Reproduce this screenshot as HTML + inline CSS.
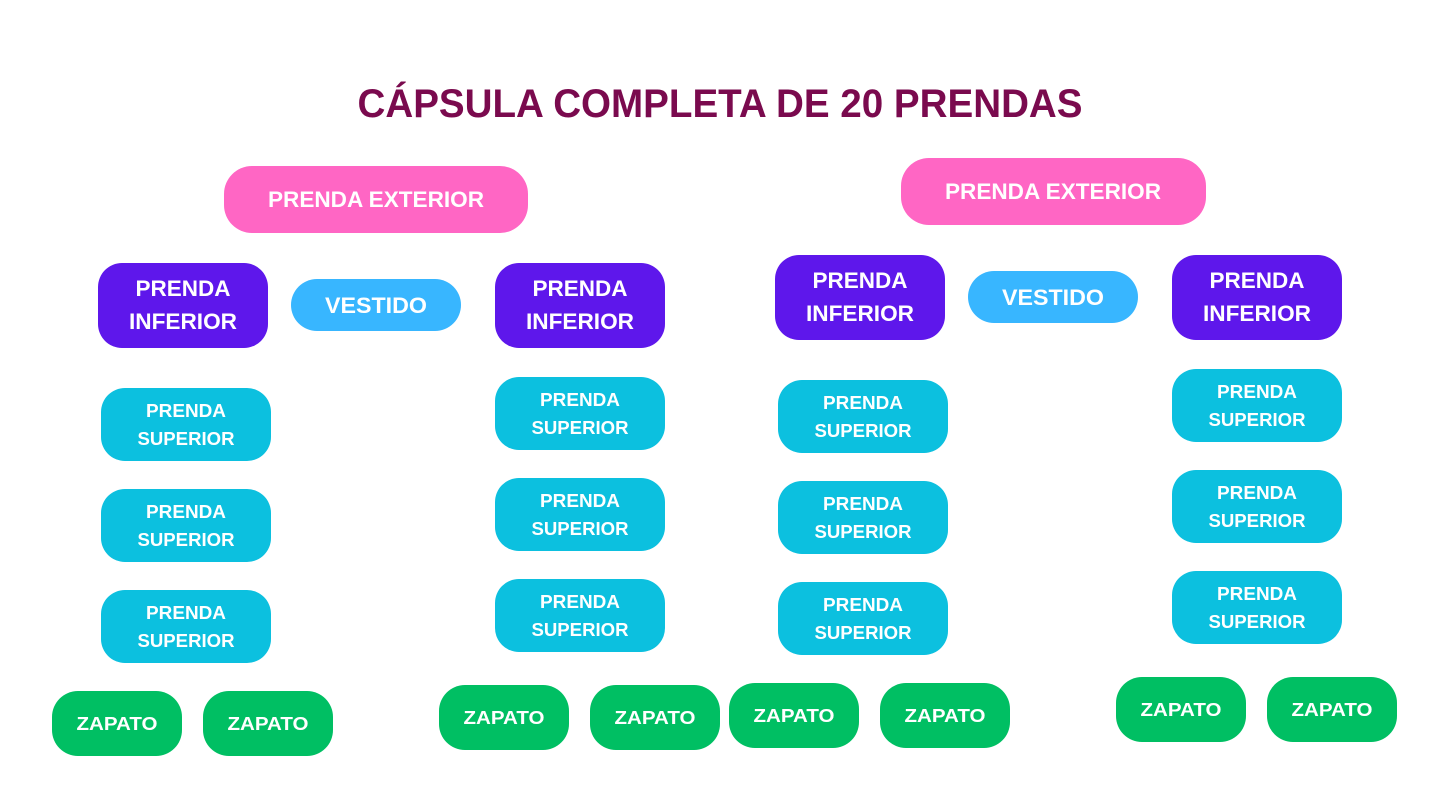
<!DOCTYPE html>
<html><head><meta charset="utf-8"><style>
html,body{margin:0;padding:0;background:#fff;width:1440px;height:810px;overflow:hidden}
text{font-family:"Liberation Sans",sans-serif;font-weight:bold;fill:#fff}
</style></head><body>
<svg width="1440" height="810" viewBox="0 0 1440 810" xmlns="http://www.w3.org/2000/svg">
<rect width="1440" height="810" fill="#fff"/>
<text x="720" y="117" text-anchor="middle" font-size="40" textLength="725" lengthAdjust="spacingAndGlyphs" style="fill:#7a0a4e">CÁPSULA COMPLETA DE 20 PRENDAS</text>

<rect x="224" y="166" width="304" height="67" rx="28" fill="#ff66c4"/>
<text x="376" y="207" text-anchor="middle" font-size="22" textLength="216" lengthAdjust="spacingAndGlyphs">PRENDA EXTERIOR</text>
<rect x="901" y="158" width="305" height="67" rx="28" fill="#ff66c4"/>
<text x="1053" y="199" text-anchor="middle" font-size="22" textLength="216" lengthAdjust="spacingAndGlyphs">PRENDA EXTERIOR</text>

<g fill="#5e17eb">
<rect x="98" y="263" width="170" height="85" rx="24"/>
<rect x="495" y="263" width="170" height="85" rx="24"/>
<rect x="775" y="255" width="170" height="85" rx="24"/>
<rect x="1172" y="255" width="170" height="85" rx="24"/>
</g>
<g font-size="22" text-anchor="middle">
<text x="183" y="296" textLength="95" lengthAdjust="spacingAndGlyphs">PRENDA</text>
<text x="183" y="329" textLength="108" lengthAdjust="spacingAndGlyphs">INFERIOR</text>
<text x="580" y="296" textLength="95" lengthAdjust="spacingAndGlyphs">PRENDA</text>
<text x="580" y="329" textLength="108" lengthAdjust="spacingAndGlyphs">INFERIOR</text>
<text x="860" y="288" textLength="95" lengthAdjust="spacingAndGlyphs">PRENDA</text>
<text x="860" y="321" textLength="108" lengthAdjust="spacingAndGlyphs">INFERIOR</text>
<text x="1257" y="288" textLength="95" lengthAdjust="spacingAndGlyphs">PRENDA</text>
<text x="1257" y="321" textLength="108" lengthAdjust="spacingAndGlyphs">INFERIOR</text>
</g>

<rect x="291" y="279" width="170" height="52" rx="26" fill="#38b6ff"/>
<rect x="968" y="271" width="170" height="52" rx="26" fill="#38b6ff"/>
<text x="376" y="313" text-anchor="middle" font-size="22" textLength="102" lengthAdjust="spacingAndGlyphs">VESTIDO</text>
<text x="1053" y="305" text-anchor="middle" font-size="22" textLength="102" lengthAdjust="spacingAndGlyphs">VESTIDO</text>

<g fill="#0cc0df">
<rect x="101" y="388" width="170" height="73" rx="24"/>
<rect x="101" y="489" width="170" height="73" rx="24"/>
<rect x="101" y="590" width="170" height="73" rx="24"/>
<rect x="495" y="377" width="170" height="73" rx="24"/>
<rect x="495" y="478" width="170" height="73" rx="24"/>
<rect x="495" y="579" width="170" height="73" rx="24"/>
<rect x="778" y="380" width="170" height="73" rx="24"/>
<rect x="778" y="481" width="170" height="73" rx="24"/>
<rect x="778" y="582" width="170" height="73" rx="24"/>
<rect x="1172" y="369" width="170" height="73" rx="24"/>
<rect x="1172" y="470" width="170" height="73" rx="24"/>
<rect x="1172" y="571" width="170" height="73" rx="24"/>
</g>
<g font-size="18" text-anchor="middle">
<text x="186" y="417" textLength="80" lengthAdjust="spacingAndGlyphs">PRENDA</text><text x="186" y="445" textLength="97" lengthAdjust="spacingAndGlyphs">SUPERIOR</text>
<text x="186" y="518" textLength="80" lengthAdjust="spacingAndGlyphs">PRENDA</text><text x="186" y="546" textLength="97" lengthAdjust="spacingAndGlyphs">SUPERIOR</text>
<text x="186" y="619" textLength="80" lengthAdjust="spacingAndGlyphs">PRENDA</text><text x="186" y="647" textLength="97" lengthAdjust="spacingAndGlyphs">SUPERIOR</text>
<text x="580" y="406" textLength="80" lengthAdjust="spacingAndGlyphs">PRENDA</text><text x="580" y="434" textLength="97" lengthAdjust="spacingAndGlyphs">SUPERIOR</text>
<text x="580" y="507" textLength="80" lengthAdjust="spacingAndGlyphs">PRENDA</text><text x="580" y="535" textLength="97" lengthAdjust="spacingAndGlyphs">SUPERIOR</text>
<text x="580" y="608" textLength="80" lengthAdjust="spacingAndGlyphs">PRENDA</text><text x="580" y="636" textLength="97" lengthAdjust="spacingAndGlyphs">SUPERIOR</text>
<text x="863" y="409" textLength="80" lengthAdjust="spacingAndGlyphs">PRENDA</text><text x="863" y="437" textLength="97" lengthAdjust="spacingAndGlyphs">SUPERIOR</text>
<text x="863" y="510" textLength="80" lengthAdjust="spacingAndGlyphs">PRENDA</text><text x="863" y="538" textLength="97" lengthAdjust="spacingAndGlyphs">SUPERIOR</text>
<text x="863" y="611" textLength="80" lengthAdjust="spacingAndGlyphs">PRENDA</text><text x="863" y="639" textLength="97" lengthAdjust="spacingAndGlyphs">SUPERIOR</text>
<text x="1257" y="398" textLength="80" lengthAdjust="spacingAndGlyphs">PRENDA</text><text x="1257" y="426" textLength="97" lengthAdjust="spacingAndGlyphs">SUPERIOR</text>
<text x="1257" y="499" textLength="80" lengthAdjust="spacingAndGlyphs">PRENDA</text><text x="1257" y="527" textLength="97" lengthAdjust="spacingAndGlyphs">SUPERIOR</text>
<text x="1257" y="600" textLength="80" lengthAdjust="spacingAndGlyphs">PRENDA</text><text x="1257" y="628" textLength="97" lengthAdjust="spacingAndGlyphs">SUPERIOR</text>
</g>

<g fill="#00bf63">
<rect x="52" y="691" width="130" height="65" rx="26"/>
<rect x="203" y="691" width="130" height="65" rx="26"/>
<rect x="439" y="685" width="130" height="65" rx="26"/>
<rect x="590" y="685" width="130" height="65" rx="26"/>
<rect x="729" y="683" width="130" height="65" rx="26"/>
<rect x="880" y="683" width="130" height="65" rx="26"/>
<rect x="1116" y="677" width="130" height="65" rx="26"/>
<rect x="1267" y="677" width="130" height="65" rx="26"/>
</g>
<g font-size="18" text-anchor="middle">
<text x="117" y="730" textLength="81" lengthAdjust="spacingAndGlyphs">ZAPATO</text>
<text x="268" y="730" textLength="81" lengthAdjust="spacingAndGlyphs">ZAPATO</text>
<text x="504" y="724" textLength="81" lengthAdjust="spacingAndGlyphs">ZAPATO</text>
<text x="655" y="724" textLength="81" lengthAdjust="spacingAndGlyphs">ZAPATO</text>
<text x="794" y="722" textLength="81" lengthAdjust="spacingAndGlyphs">ZAPATO</text>
<text x="945" y="722" textLength="81" lengthAdjust="spacingAndGlyphs">ZAPATO</text>
<text x="1181" y="716" textLength="81" lengthAdjust="spacingAndGlyphs">ZAPATO</text>
<text x="1332" y="716" textLength="81" lengthAdjust="spacingAndGlyphs">ZAPATO</text>
</g>
</svg>
</body></html>
